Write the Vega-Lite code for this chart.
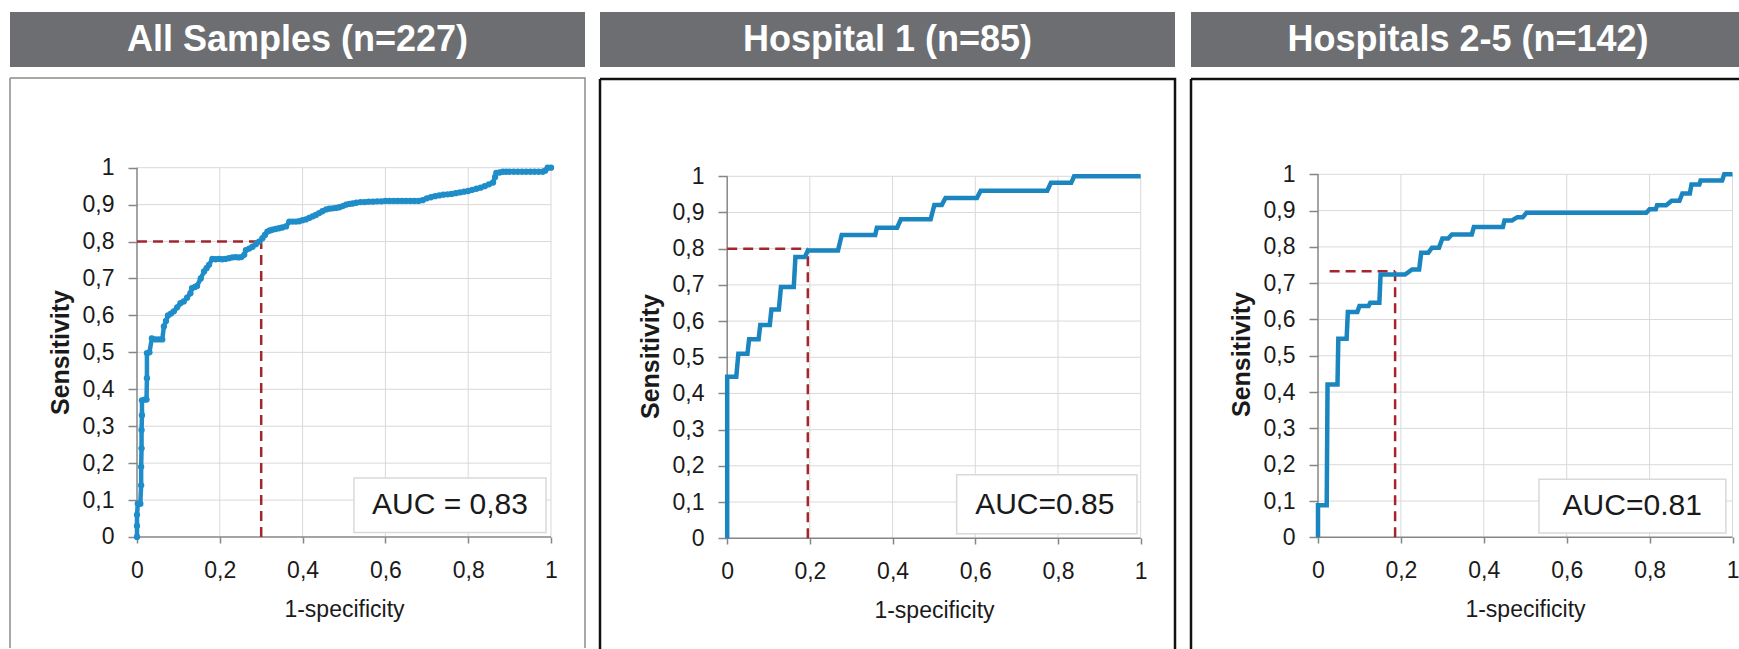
{
  "$schema": "https://vega.github.io/schema/vega-lite/v6.json",
  "padding": {"left": 9, "top": 12, "right": 0, "bottom": 0},
  "background": "white",
  "config": {"font": "Liberation Sans", "view": {"stroke": null}},
  "datasets": {
    "vgrid": [{"v": 0.2}, {"v": 0.4}, {"v": 0.6}, {"v": 0.8}, {"v": 1}],
    "hgrid": [{"v": 0.1}, {"v": 0.2}, {"v": 0.3}, {"v": 0.4}, {"v": 0.5}, {"v": 0.6}, {"v": 0.7}, {"v": 0.8}, {"v": 0.9}, {"v": 1}],
    "axislines": [{"x1": 0, "x2": 1, "y1": 0, "y2": 0}, {"x1": 0, "x2": 0, "y1": 0, "y2": 1}],
    "roc1": [
      {"x":0,"y":0},{"x":0,"y":0.03},{"x":0,"y":0.06},{"x":0.002,"y":0.09},{"x":0.008,"y":0.09},{"x":0.01,"y":0.14},{"x":0.01,"y":0.19},{"x":0.011,"y":0.24},{"x":0.011,"y":0.29},{"x":0.012,"y":0.33},{"x":0.012,"y":0.37},{"x":0.018,"y":0.372},{"x":0.023,"y":0.372},{"x":0.024,"y":0.43},{"x":0.024,"y":0.498},{"x":0.03,"y":0.5},{"x":0.036,"y":0.538},{"x":0.045,"y":0.535},{"x":0.053,"y":0.535},{"x":0.061,"y":0.535},{"x":0.065,"y":0.57},{"x":0.07,"y":0.585},{"x":0.075,"y":0.6},{"x":0.082,"y":0.605},{"x":0.089,"y":0.611},{"x":0.097,"y":0.622},{"x":0.105,"y":0.633},{"x":0.113,"y":0.638},{"x":0.121,"y":0.648},{"x":0.129,"y":0.66},{"x":0.133,"y":0.674},{"x":0.14,"y":0.677},{"x":0.145,"y":0.68},{"x":0.154,"y":0.7},{"x":0.162,"y":0.719},{"x":0.168,"y":0.728},{"x":0.174,"y":0.737},{"x":0.182,"y":0.753},{"x":0.19,"y":0.752},{"x":0.198,"y":0.753},{"x":0.206,"y":0.752},{"x":0.214,"y":0.753},{"x":0.222,"y":0.755},{"x":0.23,"y":0.757},{"x":0.238,"y":0.758},{"x":0.245,"y":0.757},{"x":0.252,"y":0.758},{"x":0.259,"y":0.764},{"x":0.263,"y":0.777},{"x":0.271,"y":0.781},{"x":0.279,"y":0.786},{"x":0.287,"y":0.793},{"x":0.295,"y":0.8},{"x":0.303,"y":0.809},{"x":0.309,"y":0.818},{"x":0.315,"y":0.827},{"x":0.321,"y":0.83},{"x":0.327,"y":0.832},{"x":0.335,"y":0.834},{"x":0.343,"y":0.836},{"x":0.351,"y":0.838},{"x":0.36,"y":0.841},{"x":0.368,"y":0.854},{"x":0.376,"y":0.854},{"x":0.384,"y":0.854},{"x":0.392,"y":0.855},{"x":0.4,"y":0.858},{"x":0.408,"y":0.86},{"x":0.416,"y":0.864},{"x":0.424,"y":0.868},{"x":0.432,"y":0.872},{"x":0.44,"y":0.877},{"x":0.448,"y":0.882},{"x":0.457,"y":0.887},{"x":0.465,"y":0.889},{"x":0.473,"y":0.89},{"x":0.481,"y":0.891},{"x":0.489,"y":0.893},{"x":0.497,"y":0.896},{"x":0.505,"y":0.9},{"x":0.513,"y":0.902},{"x":0.521,"y":0.903},{"x":0.53,"y":0.905},{"x":0.54,"y":0.907},{"x":0.55,"y":0.907},{"x":0.56,"y":0.908},{"x":0.57,"y":0.908},{"x":0.58,"y":0.909},{"x":0.59,"y":0.909},{"x":0.6,"y":0.91},{"x":0.61,"y":0.91},{"x":0.62,"y":0.91},{"x":0.63,"y":0.91},{"x":0.64,"y":0.91},{"x":0.65,"y":0.91},{"x":0.66,"y":0.91},{"x":0.67,"y":0.91},{"x":0.68,"y":0.91},{"x":0.69,"y":0.912},{"x":0.7,"y":0.917},{"x":0.71,"y":0.92},{"x":0.72,"y":0.923},{"x":0.73,"y":0.925},{"x":0.74,"y":0.927},{"x":0.75,"y":0.928},{"x":0.76,"y":0.929},{"x":0.77,"y":0.931},{"x":0.78,"y":0.933},{"x":0.79,"y":0.935},{"x":0.8,"y":0.937},{"x":0.81,"y":0.94},{"x":0.82,"y":0.943},{"x":0.83,"y":0.946},{"x":0.84,"y":0.95},{"x":0.85,"y":0.955},{"x":0.86,"y":0.96},{"x":0.865,"y":0.975},{"x":0.868,"y":0.986},{"x":0.876,"y":0.987},{"x":0.884,"y":0.989},{"x":0.892,"y":0.989},{"x":0.9,"y":0.989},{"x":0.91,"y":0.989},{"x":0.92,"y":0.989},{"x":0.93,"y":0.989},{"x":0.94,"y":0.989},{"x":0.95,"y":0.989},{"x":0.96,"y":0.989},{"x":0.97,"y":0.989},{"x":0.98,"y":0.989},{"x":0.986,"y":0.992},{"x":0.992,"y":1.0},{"x":1.0,"y":1.0}
    ],
    "roc2": [
      {"x":0,"y":0},{"x":0,"y":0.446},{"x":0.022,"y":0.446},{"x":0.027,"y":0.51},{"x":0.049,"y":0.51},{"x":0.053,"y":0.55},{"x":0.076,"y":0.55},{"x":0.08,"y":0.589},{"x":0.103,"y":0.589},{"x":0.107,"y":0.632},{"x":0.125,"y":0.632},{"x":0.13,"y":0.694},{"x":0.161,"y":0.694},{"x":0.165,"y":0.777},{"x":0.188,"y":0.777},{"x":0.195,"y":0.795},{"x":0.268,"y":0.795},{"x":0.277,"y":0.838},{"x":0.358,"y":0.838},{"x":0.362,"y":0.858},{"x":0.411,"y":0.858},{"x":0.42,"y":0.881},{"x":0.492,"y":0.881},{"x":0.501,"y":0.921},{"x":0.519,"y":0.921},{"x":0.528,"y":0.94},{"x":0.604,"y":0.94},{"x":0.613,"y":0.96},{"x":0.774,"y":0.96},{"x":0.783,"y":0.982},{"x":0.832,"y":0.982},{"x":0.839,"y":1.0},{"x":1.0,"y":1.0}
    ],
    "roc3": [
      {"x":0,"y":0},{"x":0,"y":0.088},{"x":0.021,"y":0.088},{"x":0.023,"y":0.421},{"x":0.047,"y":0.421},{"x":0.049,"y":0.547},{"x":0.069,"y":0.547},{"x":0.072,"y":0.621},{"x":0.095,"y":0.621},{"x":0.1,"y":0.637},{"x":0.122,"y":0.637},{"x":0.126,"y":0.646},{"x":0.148,"y":0.646},{"x":0.151,"y":0.724},{"x":0.21,"y":0.724},{"x":0.227,"y":0.738},{"x":0.244,"y":0.738},{"x":0.249,"y":0.784},{"x":0.266,"y":0.784},{"x":0.275,"y":0.798},{"x":0.292,"y":0.798},{"x":0.3,"y":0.823},{"x":0.314,"y":0.823},{"x":0.323,"y":0.834},{"x":0.371,"y":0.834},{"x":0.376,"y":0.855},{"x":0.446,"y":0.855},{"x":0.45,"y":0.873},{"x":0.468,"y":0.873},{"x":0.481,"y":0.882},{"x":0.494,"y":0.882},{"x":0.503,"y":0.894},{"x":0.792,"y":0.894},{"x":0.8,"y":0.904},{"x":0.815,"y":0.904},{"x":0.818,"y":0.915},{"x":0.84,"y":0.915},{"x":0.853,"y":0.927},{"x":0.872,"y":0.927},{"x":0.879,"y":0.947},{"x":0.897,"y":0.947},{"x":0.901,"y":0.972},{"x":0.92,"y":0.972},{"x":0.923,"y":0.983},{"x":0.975,"y":0.983},{"x":0.98,"y":1.0},{"x":1.0,"y":1.0}
    ],
    "cut1": [{"seg":"h","x1":0,"x2":0.3,"y1":0.8,"y2":0.8},{"seg":"v","x1":0.3,"x2":0.3,"y1":0,"y2":0.8}],
    "cut2": [{"seg":"h","x1":0,"x2":0.195,"y1":0.8,"y2":0.8},{"seg":"v","x1":0.195,"x2":0.195,"y1":0,"y2":0.8}],
    "cut3": [{"seg":"h","x1":0.028,"x2":0.186,"y1":0.733,"y2":0.733},{"seg":"v","x1":0.186,"x2":0.186,"y1":0,"y2":0.733}],
    "auc1": [{"x1":0.524,"x2":0.988,"y1":0.012,"y2":0.16,"tx":0.756,"ty":0.086,"label":"AUC = 0,83"}],
    "auc2": [{"x1":0.555,"x2":0.991,"y1":0.012,"y2":0.175,"tx":0.768,"ty":0.093,"label":"AUC=0.85"}],
    "auc3": [{"x1":0.533,"x2":0.984,"y1":0.012,"y2":0.16,"tx":0.758,"ty":0.086,"label":"AUC=0.81"}]
  },
  "spacing": 12,
  "hconcat": [
    {
      "spacing": 10,
      "vconcat": [
        {
          "width": 575, "height": 55,
          "view": {"fill": "#6d6e71", "stroke": null},
          "data": {"values": [{"title": "All Samples (n=227)"}]},
          "mark": {"type": "text", "color": "white", "fontSize": 36, "fontWeight": "bold", "baseline": "middle", "align": "center"},
          "encoding": {"text": {"field": "title"}}
        },
        {
          "width": 575, "height": 570,
          "view": {"stroke": "#8c8c8c", "strokeWidth": 1.5, "strokeDash": [1145, 575, 570, 0]},
          "resolve": {"axis": {"x": "independent", "y": "independent"}},
          "layer": [
            {
              "data": {"name": "vgrid"},
              "mark": {"type": "rule", "color": "#d9d9d9", "strokeWidth": 1},
              "encoding": {
                "x": {"field": "v", "type": "quantitative", "scale": {"domain": [-0.30676, 1.08213], "nice": false, "zero": false},
                  "axis": {"orient": "bottom", "offset": -111, "values": [0, 0.2, 0.4, 0.6, 0.8, 1], "domain": false, "grid": false, "tickSize": 6, "tickColor": "#868686", "tickWidth": 1.5, "labelFontSize": 23, "labelColor": "#1a1a1a", "labelPadding": 16, "labelFlush": false, "labelOverlap": false, "labelExpr": "replace(format(datum.value, '~g'), '.', ',')", "title": "1-specificity", "titleFontSize": 23, "titleFontWeight": "normal", "titleColor": "#1a1a1a", "titleX": 334, "titleY": 79, "titleAlign": "center", "titleBaseline": "alphabetic"}},
                "y": {"datum": 0, "type": "quantitative", "scale": {"domain": [-0.30057, 1.24289], "nice": false, "zero": false},
                  "axis": {"orient": "left", "offset": -127, "values": [0, 0.1, 0.2, 0.3, 0.4, 0.5, 0.6, 0.7, 0.8, 0.9, 1], "domain": false, "grid": false, "tickSize": 9, "tickColor": "#868686", "tickWidth": 1.5, "labelFontSize": 23, "labelColor": "#1a1a1a", "labelPadding": 14, "labelOverlap": false, "labelExpr": "replace(format(datum.value, '~g'), '.', ',')", "title": "Sensitivity", "titleFontSize": 25, "titleFontWeight": "bold", "titleColor": "#1a1a1a", "titleX": -77, "titleY": 274, "titleAngle": 270, "titleAlign": "center", "titleBaseline": "middle"}},
                "y2": {"datum": 1}
              }
            },
            {
              "data": {"name": "hgrid"},
              "mark": {"type": "rule", "color": "#d9d9d9", "strokeWidth": 1},
              "encoding": {"y": {"field": "v", "type": "quantitative", "axis": null}, "x": {"datum": 0, "type": "quantitative", "axis": null}, "x2": {"datum": 1}}
            },
            {
              "data": {"name": "axislines"},
              "mark": {"type": "rule", "color": "#868686", "strokeWidth": 1.5},
              "encoding": {"x": {"field": "x1", "type": "quantitative", "axis": null}, "x2": {"field": "x2"}, "y": {"field": "y1", "type": "quantitative", "axis": null}, "y2": {"field": "y2"}}
            },
            {
              "data": {"name": "auc1"},
              "mark": {"type": "rect", "fill": "white", "stroke": "#d9d9d9", "strokeWidth": 1.5},
              "encoding": {"x": {"field": "x1", "type": "quantitative", "axis": null}, "x2": {"field": "x2"}, "y": {"field": "y1", "type": "quantitative", "axis": null}, "y2": {"field": "y2"}}
            },
            {
              "data": {"name": "auc1"},
              "mark": {"type": "text", "fontSize": 30, "color": "#1a1a1a", "baseline": "middle", "align": "center"},
              "encoding": {"x": {"field": "tx", "type": "quantitative", "axis": null}, "y": {"field": "ty", "type": "quantitative", "axis": null}, "text": {"field": "label"}}
            },
            {
              "data": {"name": "cut1"},
              "mark": {"type": "rule", "strokeWidth": 2.5, "strokeDash": [10, 6]},
              "encoding": {"x": {"field": "x1", "type": "quantitative", "axis": null}, "x2": {"field": "x2"}, "y": {"field": "y1", "type": "quantitative", "axis": null}, "y2": {"field": "y2"},
                "color": {"field": "seg", "type": "nominal", "scale": {"domain": ["h", "v"], "range": ["#a3262f", "#a3262f"]}, "legend": null}}
            },
            {
              "data": {"name": "roc1"},
              "mark": {"type": "line", "color": "#1e8dc9", "strokeWidth": 4.5, "point": {"filled": true, "size": 40, "color": "#1e8dc9"}},
              "encoding": {"x": {"field": "x", "type": "quantitative", "axis": null}, "y": {"field": "y", "type": "quantitative", "axis": null}}
            }
          ]
        }
      ]
    },
    {
      "spacing": 10,
      "vconcat": [
        {
          "width": 575, "height": 55,
          "view": {"fill": "#6d6e71", "stroke": null},
          "data": {"values": [{"title": "Hospital 1 (n=85)"}]},
          "mark": {"type": "text", "color": "white", "fontSize": 36, "fontWeight": "bold", "baseline": "middle", "align": "center"},
          "encoding": {"text": {"field": "title"}}
        },
        {
          "width": 575, "height": 570,
          "view": {"stroke": "#111111", "strokeWidth": 2.5, "strokeDash": [1145, 575, 570, 0]},
          "resolve": {"axis": {"x": "independent", "y": "independent"}},
          "layer": [
            {
              "data": {"name": "vgrid"},
              "mark": {"type": "rule", "color": "#d9d9d9", "strokeWidth": 1},
              "encoding": {
                "x": {"field": "v", "type": "quantitative", "scale": {"domain": [-0.3076, 1.083], "nice": false, "zero": false},
                  "axis": {"orient": "bottom", "offset": -111, "values": [0, 0.2, 0.4, 0.6, 0.8, 1], "domain": false, "grid": false, "tickSize": 6, "tickColor": "#868686", "tickWidth": 1.5, "labelFontSize": 23, "labelColor": "#1a1a1a", "labelPadding": 16, "labelFlush": false, "labelOverlap": false, "labelExpr": "replace(format(datum.value, '~g'), '.', ',')", "title": "1-specificity", "titleFontSize": 23, "titleFontWeight": "normal", "titleColor": "#1a1a1a", "titleX": 334, "titleY": 79, "titleAlign": "center", "titleBaseline": "alphabetic"}},
                "y": {"datum": 0, "type": "quantitative", "scale": {"domain": [-0.30616, 1.26886], "nice": false, "zero": false},
                  "axis": {"orient": "left", "offset": -127, "values": [0, 0.1, 0.2, 0.3, 0.4, 0.5, 0.6, 0.7, 0.8, 0.9, 1], "domain": false, "grid": false, "tickSize": 9, "tickColor": "#868686", "tickWidth": 1.5, "labelFontSize": 23, "labelColor": "#1a1a1a", "labelPadding": 14, "labelOverlap": false, "labelExpr": "replace(format(datum.value, '~g'), '.', ',')", "title": "Sensitivity", "titleFontSize": 25, "titleFontWeight": "bold", "titleColor": "#1a1a1a", "titleX": -77, "titleY": 277, "titleAngle": 270, "titleAlign": "center", "titleBaseline": "middle"}},
                "y2": {"datum": 1}
              }
            },
            {
              "data": {"name": "hgrid"},
              "mark": {"type": "rule", "color": "#d9d9d9", "strokeWidth": 1},
              "encoding": {"y": {"field": "v", "type": "quantitative", "axis": null}, "x": {"datum": 0, "type": "quantitative", "axis": null}, "x2": {"datum": 1}}
            },
            {
              "data": {"name": "axislines"},
              "mark": {"type": "rule", "color": "#868686", "strokeWidth": 1.5},
              "encoding": {"x": {"field": "x1", "type": "quantitative", "axis": null}, "x2": {"field": "x2"}, "y": {"field": "y1", "type": "quantitative", "axis": null}, "y2": {"field": "y2"}}
            },
            {
              "data": {"name": "auc2"},
              "mark": {"type": "rect", "fill": "white", "stroke": "#d9d9d9", "strokeWidth": 1.5},
              "encoding": {"x": {"field": "x1", "type": "quantitative", "axis": null}, "x2": {"field": "x2"}, "y": {"field": "y1", "type": "quantitative", "axis": null}, "y2": {"field": "y2"}}
            },
            {
              "data": {"name": "auc2"},
              "mark": {"type": "text", "fontSize": 30, "color": "#1a1a1a", "baseline": "middle", "align": "center"},
              "encoding": {"x": {"field": "tx", "type": "quantitative", "axis": null}, "y": {"field": "ty", "type": "quantitative", "axis": null}, "text": {"field": "label"}}
            },
            {
              "data": {"name": "cut2"},
              "mark": {"type": "rule", "strokeWidth": 2.5, "strokeDash": [10, 6]},
              "encoding": {"x": {"field": "x1", "type": "quantitative", "axis": null}, "x2": {"field": "x2"}, "y": {"field": "y1", "type": "quantitative", "axis": null}, "y2": {"field": "y2"},
                "color": {"field": "seg", "type": "nominal", "scale": {"domain": ["h", "v"], "range": ["#a3262f", "#c2303a"]}, "legend": null}}
            },
            {
              "data": {"name": "roc2"},
              "mark": {"type": "line", "color": "#1a85bf", "strokeWidth": 4.5},
              "encoding": {"x": {"field": "x", "type": "quantitative", "axis": null}, "y": {"field": "y", "type": "quantitative", "axis": null}}
            }
          ]
        }
      ]
    },
    {
      "spacing": 10,
      "vconcat": [
        {
          "width": 554, "height": 55,
          "view": {"fill": "#6d6e71", "stroke": null},
          "data": {"values": [{"title": "Hospitals 2-5 (n=142)"}]},
          "mark": {"type": "text", "color": "white", "fontSize": 36, "fontWeight": "bold", "baseline": "middle", "align": "center"},
          "encoding": {"text": {"field": "title"}}
        },
        {
          "width": 554, "height": 570,
          "view": {"stroke": "#111111", "strokeWidth": 2.5, "strokeDash": [554, 1124, 570, 0]},
          "resolve": {"axis": {"x": "independent", "y": "independent"}},
          "layer": [
            {
              "data": {"name": "vgrid"},
              "mark": {"type": "rule", "color": "#d9d9d9", "strokeWidth": 1},
              "encoding": {
                "x": {"field": "v", "type": "quantitative", "scale": {"domain": [-0.30639, 1.0301], "nice": false, "zero": false},
                  "axis": {"orient": "bottom", "offset": -112, "values": [0, 0.2, 0.4, 0.6, 0.8, 1], "domain": false, "grid": false, "tickSize": 6, "tickColor": "#868686", "tickWidth": 1.5, "labelFontSize": 23, "labelColor": "#1a1a1a", "labelPadding": 16, "labelFlush": false, "labelOverlap": false, "labelExpr": "replace(format(datum.value, '~g'), '.', ',')", "title": "1-specificity", "titleFontSize": 23, "titleFontWeight": "normal", "titleColor": "#1a1a1a", "titleX": 334, "titleY": 79, "titleAlign": "center", "titleBaseline": "alphabetic"}},
                "y": {"datum": 0, "type": "quantitative", "scale": {"domain": [-0.30771, 1.26253], "nice": false, "zero": false},
                  "axis": {"orient": "left", "offset": -127, "values": [0, 0.1, 0.2, 0.3, 0.4, 0.5, 0.6, 0.7, 0.8, 0.9, 1], "domain": false, "grid": false, "tickSize": 9, "tickColor": "#868686", "tickWidth": 1.5, "labelFontSize": 23, "labelColor": "#1a1a1a", "labelPadding": 14, "labelOverlap": false, "labelExpr": "replace(format(datum.value, '~g'), '.', ',')", "title": "Sensitivity", "titleFontSize": 25, "titleFontWeight": "bold", "titleColor": "#1a1a1a", "titleX": -77, "titleY": 275, "titleAngle": 270, "titleAlign": "center", "titleBaseline": "middle"}},
                "y2": {"datum": 1}
              }
            },
            {
              "data": {"name": "hgrid"},
              "mark": {"type": "rule", "color": "#d9d9d9", "strokeWidth": 1},
              "encoding": {"y": {"field": "v", "type": "quantitative", "axis": null}, "x": {"datum": 0, "type": "quantitative", "axis": null}, "x2": {"datum": 1}}
            },
            {
              "data": {"name": "axislines"},
              "mark": {"type": "rule", "color": "#868686", "strokeWidth": 1.5},
              "encoding": {"x": {"field": "x1", "type": "quantitative", "axis": null}, "x2": {"field": "x2"}, "y": {"field": "y1", "type": "quantitative", "axis": null}, "y2": {"field": "y2"}}
            },
            {
              "data": {"name": "auc3"},
              "mark": {"type": "rect", "fill": "white", "stroke": "#d9d9d9", "strokeWidth": 1.5},
              "encoding": {"x": {"field": "x1", "type": "quantitative", "axis": null}, "x2": {"field": "x2"}, "y": {"field": "y1", "type": "quantitative", "axis": null}, "y2": {"field": "y2"}}
            },
            {
              "data": {"name": "auc3"},
              "mark": {"type": "text", "fontSize": 30, "color": "#1a1a1a", "baseline": "middle", "align": "center"},
              "encoding": {"x": {"field": "tx", "type": "quantitative", "axis": null}, "y": {"field": "ty", "type": "quantitative", "axis": null}, "text": {"field": "label"}}
            },
            {
              "data": {"name": "cut3"},
              "mark": {"type": "rule", "strokeWidth": 2.5, "strokeDash": [10, 6]},
              "encoding": {"x": {"field": "x1", "type": "quantitative", "axis": null}, "x2": {"field": "x2"}, "y": {"field": "y1", "type": "quantitative", "axis": null}, "y2": {"field": "y2"},
                "color": {"field": "seg", "type": "nominal", "scale": {"domain": ["h", "v"], "range": ["#a3262f", "#dc2230"]}, "legend": null}}
            },
            {
              "data": {"name": "roc3"},
              "mark": {"type": "line", "color": "#1a85bf", "strokeWidth": 4.5},
              "encoding": {"x": {"field": "x", "type": "quantitative", "axis": null}, "y": {"field": "y", "type": "quantitative", "axis": null}}
            }
          ]
        }
      ]
    }
  ]
}
